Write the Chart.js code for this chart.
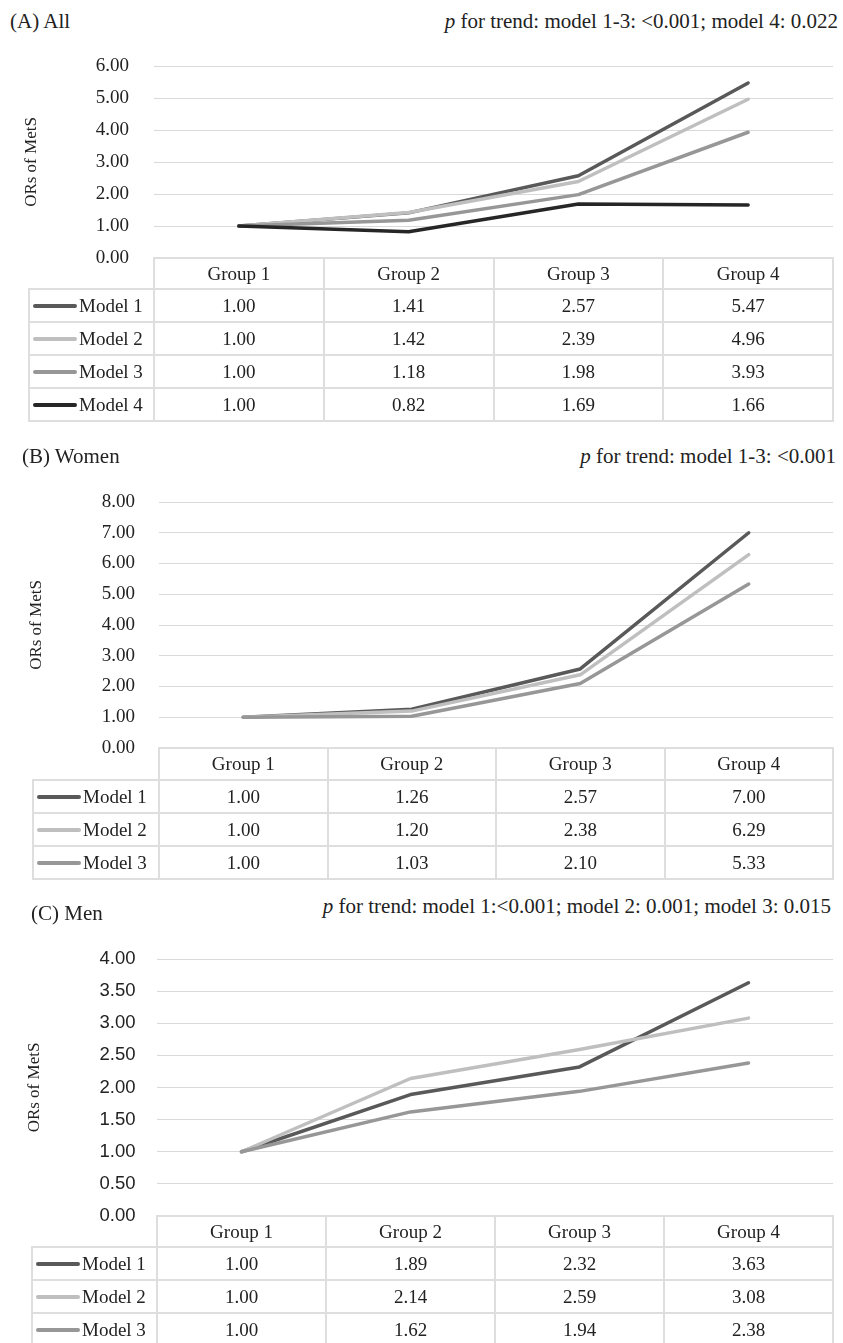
<!DOCTYPE html>
<html>
<head>
<meta charset="utf-8">
<script src="https://cdn.jsdelivr.net/npm/chart.js@4.4.0/dist/chart.umd.min.js"></script>
<style>
  html, body { margin: 0; padding: 0; background: #fff; }
  body { width: 843px; height: 1343px; position: relative; overflow: hidden;
         font-family: 'Liberation Serif', serif; color: #222; }
  .abs { position: absolute; white-space: nowrap; }
  .title { font-size: 21px; line-height: 21px; }
  .ptext { font-size: 21px; line-height: 21px; text-align: right; }
  canvas { position: absolute; left: 0; }
  table.grid { position: absolute; border-collapse: collapse; table-layout: fixed; font-size: 19px; }
  table.grid td { border: 2px solid #dedede; padding: 0; text-align: center; color: #222; }
  table.grid td.corner { border: none; }
  table.grid td.leg { text-align: left; padding-left: 3px; }
  .sw { display: inline-block; width: 44px; height: 4px; border-radius: 2px;
        vertical-align: middle; margin-right: 2px; position: relative; top: -1px; }
</style>
</head>
<body>
<script>
// categories / series
const groupLabels = ['Group 1', 'Group 2', 'Group 3', 'Group 4'];
const modelLabels = ['Model 1', 'Model 2', 'Model 3', 'Model 4'];

// (A) All
const allModel1 = [1.00, 1.41, 2.57, 5.47];
const allModel2 = [1.00, 1.42, 2.39, 4.96];
const allModel3 = [1.00, 1.18, 1.98, 3.93];
const allModel4 = [1.00, 0.82, 1.69, 1.66];
const allTicks = [0, 1, 2, 3, 4, 5, 6];

// (B) Women
const womenModel1 = [1.00, 1.26, 2.57, 7.00];
const womenModel2 = [1.00, 1.20, 2.38, 6.29];
const womenModel3 = [1.00, 1.03, 2.10, 5.33];
const womenTicks = [0, 1, 2, 3, 4, 5, 6, 7, 8];

// (C) Men
const menModel1 = [1.00, 1.89, 2.32, 3.63];
const menModel2 = [1.00, 2.14, 2.59, 3.08];
const menModel3 = [1.00, 1.62, 1.94, 2.38];
const menTicks = [0, 0.5, 1, 1.5, 2, 2.5, 3, 3.5, 4];

const modelColors = ['#595959', '#bfbfbf', '#979797', '#262626'];

// layout of each panel (pixels on the page)
const panels = [
    { title: '(A) All', ptext: 'for trend: model 1-3: <0.001; model 4: 0.022',
      series: [allModel1, allModel2, allModel3, allModel4], ticks: allTicks,
      titleX: 10, titleTop: 11, pRight: 838, pTop: 11,
      top: 66, zero: 258, gridLeft: 154, labelRight: 129, legLeft: 29, yTitleX: 31.5,
      tickFont: 'Liberation Serif', tickSize: 19, headH: 31, rowH: 33 },
    { title: '(B) Women', ptext: 'for trend: model 1-3: <0.001',
      series: [womenModel1, womenModel2, womenModel3], ticks: womenTicks,
      titleX: 22, titleTop: 446, pRight: 836, pTop: 446,
      top: 502, zero: 748, gridLeft: 159, labelRight: 135, legLeft: 33, yTitleX: 36.5,
      tickFont: 'Liberation Serif', tickSize: 19, headH: 32, rowH: 33 },
    { title: '(C) Men', ptext: 'for trend: model 1:<0.001; model 2: 0.001; model 3: 0.015',
      series: [menModel1, menModel2, menModel3], ticks: menTicks,
      titleX: 31, titleTop: 903, pRight: 831, pTop: 896,
      top: 959, zero: 1216, gridLeft: 157, labelRight: 135.5, legLeft: 32, yTitleX: 34.5,
      tickFont: 'Liberation Sans', tickSize: 18.5, headH: 31, rowH: 33 },
];

const W = 843;
const RIGHT = 833;
const PAD = 50; // bigger than label half height + tick padding, so the plot area is exact

panels.forEach((p) => {
    // headings
    const t = document.createElement('div');
    t.className = 'abs title';
    t.style.left = p.titleX + 'px';
    t.style.top = p.titleTop + 'px';
    t.textContent = p.title;
    document.body.appendChild(t);

    const pt = document.createElement('div');
    pt.className = 'abs ptext';
    pt.style.right = (W - p.pRight) + 'px';
    pt.style.top = p.pTop + 'px';
    pt.innerHTML = '<i>p</i> ' + p.ptext;
    document.body.appendChild(pt);

    // chart
    const canvas = document.createElement('canvas');
    canvas.width = W;
    canvas.height = (p.zero - p.top) + PAD * 2;
    canvas.style.top = (p.top - PAD) + 'px';
    document.body.appendChild(canvas);

    new Chart(canvas, {
        type: 'line',
        data: {
            labels: groupLabels,
            datasets: p.series.map((d, i) => ({
                label: modelLabels[i],
                data: d,
                borderColor: modelColors[i],
                backgroundColor: modelColors[i],
                borderWidth: 3.5,
                borderCapStyle: 'round',
                borderJoinStyle: 'round',
                pointRadius: 0,
                tension: 0,
                fill: false,
                order: -i,
            })),
        },
        options: {
            responsive: false,
            animation: false,
            devicePixelRatio: 1,
            layout: { padding: { top: PAD, bottom: PAD, left: 0, right: W - RIGHT } },
            plugins: { legend: { display: false }, tooltip: { enabled: false } },
            scales: {
                x: { display: false, offset: true },
                y: {
                    min: p.ticks[0],
                    max: p.ticks[p.ticks.length - 1],
                    afterBuildTicks: (s) => { s.ticks = p.ticks.map((v) => ({ value: v })); },
                    afterFit: (s) => { s.width = p.gridLeft; },
                    border: { display: false },
                    grid: { color: '#d9d9d9', lineWidth: 1, drawTicks: false },
                    ticks: {
                        padding: p.gridLeft - p.labelRight,
                        color: '#222',
                        font: { family: p.tickFont, size: p.tickSize },
                        callback: (v) => Number(v).toFixed(2),
                    },
                    title: {
                        display: true,
                        text: 'ORs of MetS',
                        color: '#222',
                        font: { family: 'Liberation Serif', size: 17 },
                        padding: { top: p.yTitleX - 10.2, bottom: 0 },
                    },
                },
            },
        },
    });

    // data table under the plot
    const table = document.createElement('table');
    table.className = 'grid';
    table.style.left = (p.legLeft - 1) + 'px';
    table.style.top = (p.zero - 1) + 'px';
    table.style.width = (RIGHT - p.legLeft + 2) + 'px';
    const colW = (RIGHT - p.gridLeft) / groupLabels.length;
    const cg = document.createElement('colgroup');
    [p.gridLeft - p.legLeft].concat(groupLabels.map(() => colW)).forEach((w) => {
        const c = document.createElement('col');
        c.style.width = w + 'px';
        cg.appendChild(c);
    });
    table.appendChild(cg);

    const head = document.createElement('tr');
    head.style.height = p.headH + 'px';
    const corner = document.createElement('td');
    corner.className = 'corner';
    head.appendChild(corner);
    groupLabels.forEach((g) => {
        const td = document.createElement('td');
        td.textContent = g;
        head.appendChild(td);
    });
    table.appendChild(head);

    p.series.forEach((d, i) => {
        const tr = document.createElement('tr');
        tr.style.height = p.rowH + 'px';
        const leg = document.createElement('td');
        leg.className = 'leg';
        const sw = document.createElement('span');
        sw.className = 'sw';
        sw.style.background = modelColors[i];
        leg.appendChild(sw);
        leg.appendChild(document.createTextNode(modelLabels[i]));
        tr.appendChild(leg);
        d.forEach((v) => {
            const td = document.createElement('td');
            td.textContent = v.toFixed(2);
            tr.appendChild(td);
        });
        table.appendChild(tr);
    });
    document.body.appendChild(table);
});
</script>
</body>
</html>
